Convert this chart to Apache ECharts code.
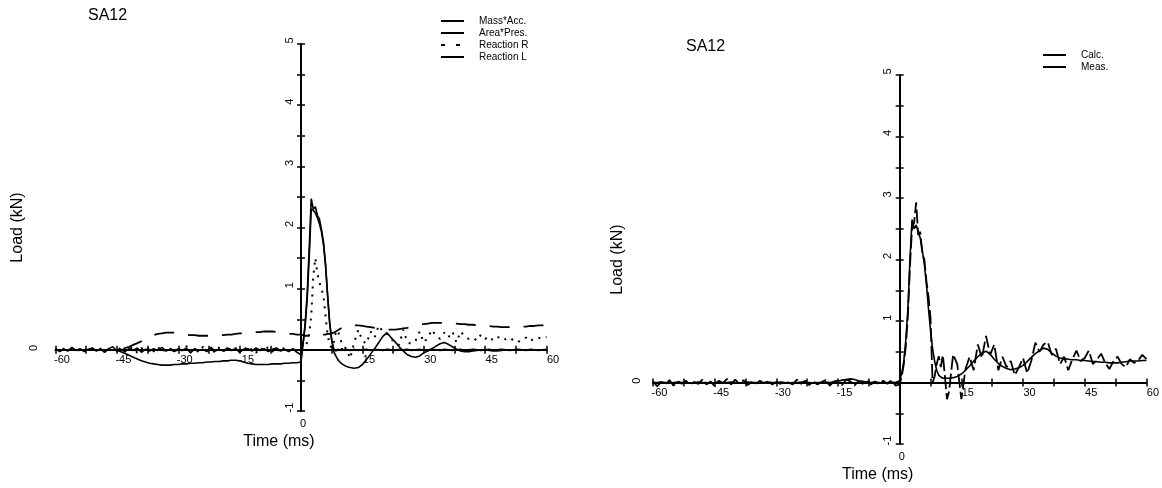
<!DOCTYPE html>
<html>
<head>
<meta charset="utf-8">
<script src="https://cdn.jsdelivr.net/npm/echarts@6/dist/echarts.min.js"></script>
<style>
html,body{margin:0;padding:0;background:#fff;}
#chart{width:1162px;height:488px;}
</style>
</head>
<body>
<div id="chart"></div>
<script>
// ---- shared time grid (ms) ----
const T = [
-60,-59,-58,-57,-56,-55,-54,-53,-52,-51,
-50,-49,-48,-47,-46,-45,-44,-43,-42,-41,
-40,-39,-38,-37,-36,-35,-34,-33,-32,-31,
-30,-29,-28,-27,-26,-25,-24,-23,-22,-21,
-20,-19,-18,-17,-16,-15,-14,-13,-12,-11,
-10,-9,-8,-7,-6,-5,-4,-3,-2,-1,
0,0.5,1,1.5,2,
2.5,3,3.5,4,4.5,
5,5.5,6,6.5,7,
7.5,8,8.5,9,9.5,
10,10.5,11,11.5,12,
13,14,15,16,17,18,19,20,21,22,23,24,
25,26,27,28,29,30,31,32,33,34,35,36,
37,38,39,40,41,42,43,44,45,46,47,48,
49,50,51,52,53,54,55,56,57,58,59,60
];

// ---- left panel series (kN) ----
const massAcc = [
0.02,-0.03,0.01,-0.02,0.04,-0.01,0.02,-0.03,0.01,0.03,
-0.02,0.01,-0.04,0.02,0.05,-0.02,0.01,-0.03,0.02,-0.01,
0.03,-0.04,0.01,-0.02,0.02,-0.01,0.04,-0.02,0.01,-0.03,
0.02,-0.01,0.03,-0.05,0.02,-0.01,0.01,-0.03,0.04,-0.02,
0.01,-0.02,0.03,-0.01,0.02,-0.04,0.01,0.02,-0.02,0.03,
-0.01,0.02,-0.03,0.01,0.03,-0.02,0.01,-0.03,0.02,-0.04,
-0.08,0.12,0.42,0.9,1.65,
2.47,2.3,2.34,2.2,2.14,
1.97,1.76,1.4,0.9,0.45,
0.16,0.02,-0.02,0.01,-0.01,
0.02,-0.01,0.01,0,-0.01,
0.01,-0.01,0,0.01,-0.01,0.01,0,-0.01,0.01,0,-0.01,0.01,
0,0.01,-0.01,0,0.01,-0.01,0,0.01,0,-0.01,0.01,0,
-0.01,0,0.01,-0.01,0,0.01,0,-0.01,0,0.01,-0.01,0,
0.01,0,-0.01,0,0.01,0,-0.01,0.01,0,-0.01,0,0.01
];
const areaPres = [
0,0,0,0,0,0,0,0,0,0,
0,0,0,0,0,-0.01,-0.03,-0.06,-0.09,-0.12,
-0.15,-0.18,-0.2,-0.22,-0.23,-0.24,-0.25,-0.25,-0.25,-0.24,
-0.24,-0.23,-0.23,-0.22,-0.22,-0.21,-0.21,-0.2,-0.2,-0.19,
-0.19,-0.18,-0.18,-0.17,-0.17,-0.18,-0.2,-0.22,-0.23,-0.24,
-0.24,-0.24,-0.24,-0.23,-0.23,-0.23,-0.22,-0.22,-0.21,-0.21,
-0.2,0.08,0.38,0.82,1.5,
2.3,2.28,2.24,2.16,2.06,
1.93,1.72,1.38,0.88,0.44,
0.16,-0.03,-0.1,-0.16,-0.2,
-0.23,-0.25,-0.27,-0.28,-0.29,
-0.3,-0.29,-0.24,-0.16,-0.07,0.02,0.12,0.22,0.28,0.2,0.13,0.05,
-0.02,-0.08,-0.11,-0.12,-0.1,-0.05,-0.02,0.02,0.06,0.1,0.12,0.09,
0.05,0.01,-0.02,-0.03,-0.03,-0.02,-0.01,0,0,-0.01,-0.02,-0.02,
-0.01,0,0,0,0,0,0,0,0,0,0,0
];
const reactionR = [
0.01,-0.02,0.02,-0.01,0.01,0.02,-0.02,0.01,-0.01,0.02,
-0.01,0.02,-0.02,0.01,0.03,-0.04,0.05,-0.03,0.02,0.04,
-0.05,0.03,-0.02,0.04,-0.03,0.05,-0.04,0.02,0.03,-0.05,
0.04,-0.02,0.06,-0.03,0.02,-0.04,0.05,-0.02,0.03,-0.05,
0.04,-0.03,0.05,-0.02,0.03,-0.04,0.06,-0.03,0.02,-0.05,
0.04,-0.02,0.05,-0.03,0.03,-0.04,0.05,-0.02,0.03,-0.03,
0,0.03,0.06,0.12,0.25,
0.55,1.2,1.5,1.25,1.1,
1.0,0.88,0.55,0.25,0.08,
0.03,0.12,0.28,0.32,0.2,
0.1,0.06,0.02,-0.05,-0.14,
0.12,0.33,0.15,0.1,0.3,0.2,0.4,0.3,0.26,0.18,0.12,0.08,
0.33,0.12,0.1,0.15,0.3,0.12,0.2,0.33,0.22,0.18,0.28,0.2,
0.3,0.12,0.3,0.22,0.18,0.2,0.15,0.25,0.18,0.22,0.15,0.2,
0.22,0.17,0.2,0.15,0.12,0.18,0.2,0.14,0.19,0.2,0.18,0.21
];
const reactionL = [
0,0,0,0,0,0,0,0,0,0,
0,0,0,0,0,0,0.01,0.03,0.05,0.08,
0.11,0.14,0.18,0.21,0.24,0.26,0.27,0.28,0.28,0.28,
0.27,0.26,0.25,0.24,0.24,0.23,0.23,0.23,0.23,0.23,
0.24,0.24,0.25,0.25,0.26,0.27,0.27,0.28,0.28,0.29,
0.29,0.3,0.3,0.3,0.29,0.28,0.27,0.26,0.26,0.25,
0.25,0.24,0.23,0.23,0.23,
0.23,0.23,0.23,0.23,0.24,
0.24,0.25,0.25,0.26,0.26,
0.27,0.28,0.3,0.32,0.34,
0.36,0.38,0.39,0.4,0.4,
0.4,0.4,0.39,0.38,0.37,0.36,0.35,0.34,0.33,0.33,0.33,0.34,
0.35,0.36,0.38,0.4,0.41,0.42,0.43,0.44,0.44,0.44,0.44,0.44,
0.43,0.43,0.42,0.42,0.41,0.41,0.4,0.4,0.39,0.39,0.38,0.38,
0.37,0.37,0.37,0.37,0.37,0.38,0.38,0.39,0.39,0.4,0.4,0.4
];

// ---- right panel series (kN) ----
const calc = [
0,0,0.01,0,-0.01,0,0.01,0,0,-0.01,
0,0.01,0,0,-0.01,0,0.01,0,0,0.01,
0,-0.01,0,0.01,0,0,-0.01,0,0.01,0,
0,0.01,0,-0.01,0,0,0.01,0,0,-0.01,
0,0,0.01,0,0.01,0.02,0.04,0.05,0.06,0.05,
0.03,0.02,0.01,0,0.01,0,-0.01,0,0.01,0,
0.03,0.15,0.35,0.7,1.2,
2.0,2.65,2.5,2.56,2.45,
2.35,2.15,1.92,1.6,1.2,
0.85,0.55,0.35,0.2,0.12,
0.09,0.07,0.07,0.07,0.07,
0.08,0.1,0.14,0.2,0.27,0.35,0.42,0.48,0.51,0.46,0.38,0.31,
0.26,0.23,0.21,0.22,0.24,0.28,0.34,0.41,0.47,0.52,0.56,0.54,
0.48,0.43,0.4,0.39,0.38,0.37,0.37,0.36,0.36,0.35,0.34,0.34,
0.33,0.33,0.32,0.32,0.32,0.33,0.34,0.35,0.35,0.35,0.36,0.36
];
const meas = [
0.02,-0.06,0.01,-0.03,0.04,-0.05,0.02,-0.02,0.03,-0.04,
0.01,-0.02,0.05,-0.03,0.02,-0.06,0.03,-0.01,0.06,-0.03,
0.05,-0.02,0.04,-0.04,0.01,-0.02,0.03,-0.01,0.02,-0.03,
0.01,-0.02,0.02,0,-0.03,0.05,-0.02,0.03,-0.04,0.02,
-0.03,0.01,0.04,-0.05,0.02,0.03,-0.04,0.05,0.02,-0.05,
0.03,-0.02,0.04,-0.03,0.02,-0.04,0.03,-0.02,0.04,-0.05,
-0.03,0.1,0.3,0.6,1.1,
1.9,2.5,2.6,2.93,2.4,
2.45,2.1,2.0,1.65,1.4,
1.05,0.0,0.1,0.3,0.43,
0.25,0.45,0.1,-0.27,-0.15,
0.46,0.3,-0.27,0.22,0.42,0.2,0.62,0.4,0.76,0.45,0.62,0.2,
0.42,0.25,0.35,0.12,0.25,0.4,0.15,0.35,0.65,0.5,0.62,0.66,
0.45,0.55,0.3,0.42,0.2,0.38,0.52,0.35,0.4,0.52,0.3,0.38,
0.47,0.32,0.22,0.35,0.42,0.3,0.25,0.38,0.32,0.36,0.45,0.38
];

// ---- text ----
const titleText = 'SA12';
const xName = 'Time (ms)';
const yName = 'Load (kN)';
const leftNames = ['Mass*Acc.', 'Area*Pres.', 'Reaction R', 'Reaction L'];
const rightNames = ['Calc.', 'Meas.'];

const FONT = '"Liberation Sans Narrow", "Arial Narrow", "Liberation Sans", Arial, sans-serif';
const BLACK = '#000';
const TICK_FS = 11, NAME_FS = 16, TITLE_FS = 16, LEGEND_FS = 10;

function pairs(v) { return T.map((t, i) => [t, v[i]]); }
function hide0(v) { return v === 0 ? '' : String(v); }
function only0(v) { return v === 0 ? '0' : ''; }

const tickStyle = { color: BLACK, width: 1.5 };

function mainX(gridIndex) {
  return {
    type: 'value', gridIndex, min: -60, max: 60, interval: 15, position: 'bottom',
    axisLine: { show: true, onZero: false, lineStyle: { color: BLACK, width: 2 } },
    axisTick: { show: true, length: 4, lineStyle: tickStyle },
    minorTick: { show: true, splitNumber: 2, length: 4, lineStyle: tickStyle },
    splitLine: { show: false },
    axisLabel: { formatter: hide0, margin: 5, color: BLACK, fontFamily: FONT, fontSize: TICK_FS, padding: [0, 0, 0, 13] }
  };
}
// same scale, ticks pointing the other way, so ticks cross the axis line
function innerX(gridIndex) {
  return {
    type: 'value', gridIndex, min: -60, max: 60, interval: 15, position: 'bottom',
    axisLine: { show: false, onZero: false },
    axisTick: { show: true, inside: true, length: 4, lineStyle: tickStyle },
    minorTick: { show: true, splitNumber: 2, length: 4, lineStyle: tickStyle },
    splitLine: { show: false }, axisLabel: { show: false }
  };
}
function zeroX(gridIndex, margin, gap) {
  return {
    type: 'value', gridIndex, min: -60, max: 60, interval: 15, position: 'bottom',
    axisLine: { show: false, onZero: false },
    axisTick: { show: false }, splitLine: { show: false },
    axisLabel: { formatter: only0, margin: margin, color: BLACK, fontFamily: FONT, fontSize: TICK_FS, padding: [0, 0, 0, 4] },
    name: xName, nameLocation: 'middle', nameGap: gap,
    nameTextStyle: { color: BLACK, fontFamily: FONT, fontSize: NAME_FS, padding: [0, 44, 0, 0] }
  };
}
function mainY(gridIndex) {
  return {
    type: 'value', gridIndex, min: -1, max: 5, interval: 1, position: 'left',
    axisLine: { show: true, onZero: false, lineStyle: { color: BLACK, width: 2 } },
    axisTick: { show: true, length: 4, lineStyle: tickStyle },
    minorTick: { show: true, splitNumber: 2, length: 4, lineStyle: tickStyle },
    splitLine: { show: false },
    axisLabel: { formatter: hide0, rotate: 90, margin: 6, color: BLACK, fontFamily: FONT, fontSize: TICK_FS, padding: [0, 0, 0, 7] }
  };
}
function innerY(gridIndex) {
  return {
    type: 'value', gridIndex, min: -1, max: 5, interval: 1, position: 'left',
    axisLine: { show: false, onZero: false },
    axisTick: { show: true, inside: true, length: 4, lineStyle: tickStyle },
    minorTick: { show: true, splitNumber: 2, length: 4, lineStyle: tickStyle },
    splitLine: { show: false }, axisLabel: { show: false }
  };
}
function zeroY(gridIndex, margin, gap) {
  return {
    type: 'value', gridIndex, min: -1, max: 5, interval: 1, position: 'left',
    axisLine: { show: false, onZero: false },
    axisTick: { show: false }, splitLine: { show: false },
    axisLabel: { formatter: only0, rotate: 90, margin: margin, color: BLACK, fontFamily: FONT, fontSize: TICK_FS, padding: [0, 0, 0, 4] },
    name: yName, nameLocation: 'middle', nameGap: gap, nameRotate: 90,
    nameTextStyle: { color: BLACK, fontFamily: FONT, fontSize: NAME_FS }
  };
}
function line(name, data, xi, yi, type, width) {
  return {
    name, type: 'line', data: pairs(data), xAxisIndex: xi, yAxisIndex: yi,
    symbol: 'none', showSymbol: false, smooth: false, animation: false,
    lineStyle: { color: BLACK, width: width, type: type },
    itemStyle: { color: BLACK }
  };
}
function legendBase(left, top) {
  return {
    orient: 'vertical', left: left, top: top, padding: 0, itemGap: 0, itemWidth: 23, itemHeight: 12,
    selectedMode: false,
    itemStyle: { opacity: 0 },
    textStyle: { color: BLACK, fontFamily: FONT, fontSize: LEGEND_FS, lineHeight: 12, padding: [0, 0, 0, 10] }
  };
}

const chart = echarts.init(document.getElementById('chart'), null, { renderer: 'canvas' });
chart.setOption({
  animation: false,
  backgroundColor: '#fff',
  title: [
    { text: titleText, left: 88, top: 8, padding: 0, textStyle: { color: BLACK, fontFamily: FONT, fontSize: TITLE_FS, fontWeight: 'normal' } },
    { text: titleText, left: 686, top: 39, padding: 0, textStyle: { color: BLACK, fontFamily: FONT, fontSize: TITLE_FS, fontWeight: 'normal' } }
  ],
  legend: [
    Object.assign(legendBase(440, 15), {
      data: [leftNames[0], leftNames[1], { name: leftNames[2], lineStyle: { type: [4, 11] } }, { name: leftNames[3], lineStyle: { type: 'solid' } }]
    }),
    Object.assign(legendBase(1042, 49), {
      data: [rightNames[0], { name: rightNames[1], lineStyle: { type: 'solid' } }]
    })
  ],
  grid: [
    { left: 55.5, top: 44, width: 491, height: 367 },
    { left: 653, top: 75, width: 494, height: 371 }
  ],
  xAxis: [mainX(0), zeroX(0, 7, 20), mainX(1), zeroX(1, 7, 21), innerX(0), innerX(1)],
  yAxis: [mainY(0), zeroY(0, 16, 30), mainY(1), zeroY(1, 11, 27), innerY(0), innerY(1)],
  series: [
    line(leftNames[0], massAcc, 0, 0, 'solid', 1.6),
    line(leftNames[1], areaPres, 0, 0, 'solid', 1.6),
    line(leftNames[2], reactionR, 0, 0, [2, 6], 2),
    line(leftNames[3], reactionL, 0, 0, [20, 14], 1.8),
    line(rightNames[0], calc, 2, 2, 'solid', 1.6),
    line(rightNames[1], meas, 2, 2, [14, 4], 1.8)
  ]
});

// Move the main axes onto the other axis' zero, using the library's own scales.
function zeroOffsets(xi, yi) {
  const x0 = chart.convertToPixel({ xAxisIndex: xi }, 0);
  const xMin = chart.convertToPixel({ xAxisIndex: xi }, -60);
  const y0 = chart.convertToPixel({ yAxisIndex: yi }, 0);
  const yMin = chart.convertToPixel({ yAxisIndex: yi }, -1);
  return { xOff: y0 - yMin, yOff: xMin - x0 };
}
const o0 = zeroOffsets(0, 0);
const o1 = zeroOffsets(2, 2);
chart.setOption({
  xAxis: [{ offset: o0.xOff }, {}, { offset: o1.xOff }, {}, { offset: o0.xOff }, { offset: o1.xOff }],
  yAxis: [{ offset: o0.yOff }, {}, { offset: o1.yOff }, {}, { offset: o0.yOff }, { offset: o1.yOff }]
});
</script>
</body>
</html>
